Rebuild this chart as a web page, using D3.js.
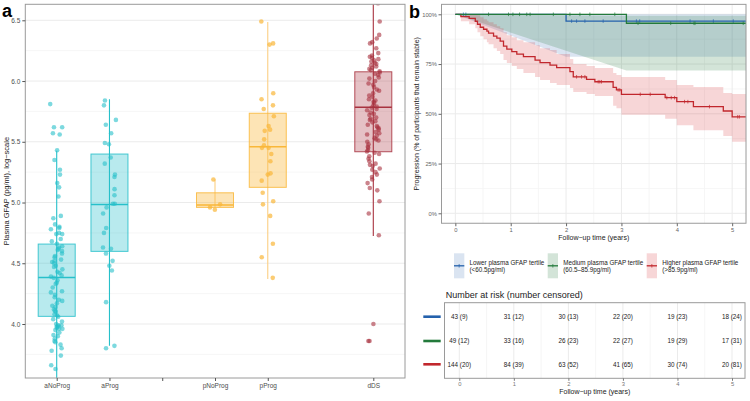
<!DOCTYPE html>
<html><head><meta charset="utf-8">
<script src="https://cdn.jsdelivr.net/npm/d3@7"></script>
<style>body{margin:0;background:#fff}svg{display:block;font-family:"Liberation Sans",Arial,Helvetica,sans-serif}</style>
</head><body><svg id="c" width="750" height="401"></svg>
<script>
// ---------------- DATA: panel a ----------------
const slots = ["aNoProg","aProg","gap1","pNoProg","pProg","gap2","dDS"];
const tickCats = ["aNoProg","aProg","gap1","pNoProg","pProg","dDS"];
const yTicksA = [4.0,4.5,5.0,5.5,6.0,6.5];
const boxGroups = ["aNoProg","aProg","pNoProg","pProg","dDS"];
const boxQ1  = [4.063,4.598,4.960,5.125,5.418];
const boxMed = [4.383,4.984,4.980,5.459,5.784];
const boxQ3  = [4.658,5.399,5.080,5.735,6.076];
const whiskLo= [3.50 ,3.822,4.960,4.370,4.724];
const whiskHi= [5.426,5.850,5.190,6.486,6.700];
const ptsANoProg = [5.81,5.62,5.62,5.57,5.56,5.43,5.35,5.27,5.23,5.16,5.125,5.05,4.89,4.87,4.82,4.80,4.79,4.78,4.75,4.74,4.74,4.70,4.68,4.66,4.64,4.63,4.62,4.61,4.60,4.58,4.56,4.55,4.53,4.52,4.51,4.50,4.48,4.47,4.45,4.43,4.42,4.40,4.39,4.38,4.36,4.34,4.33,4.30,4.27,4.26,4.24,4.22,4.20,4.19,4.17,4.15,4.14,4.12,4.11,4.10,4.08,4.07,4.06,4.04,4.02,4.00,3.99,3.99,3.98,3.98,3.97,3.96,3.96,3.95,3.93,3.91,3.90,3.88,3.86,3.85,3.83,3.80,3.78,3.74,3.66,3.63];
const ptsAProg = [5.84,5.80,5.68,5.64,5.57,5.49,5.48,5.37,5.32,5.23,5.21,5.11,5.06,4.99,4.99,4.96,4.91,4.79,4.75,4.63,4.62,4.58,4.52,4.48,4.44,4.18,3.82,3.80];
const ptsPNoProg = [5.19,4.985,4.96,4.94];
const ptsPProg = [6.49,6.31,6.30,5.90,5.85,5.80,5.77,5.71,5.63,5.60,5.59,5.52,5.47,5.45,5.45,5.40,5.34,5.24,5.23,5.18,5.08,5.01,4.985,4.89,4.66,4.55,4.38];
const ptsDDS = [6.64,6.49,6.38,6.35,6.32,6.31,6.27,6.23,6.21,6.20,6.19,6.18,6.17,6.16,6.15,6.14,6.13,6.12,6.11,6.10,6.09,6.08,6.07,6.06,6.05,6.03,6.02,6.00,5.98,5.97,5.95,5.93,5.92,5.90,5.88,5.87,5.85,5.84,5.83,5.82,5.80,5.79,5.78,5.77,5.76,5.74,5.73,5.72,5.70,5.69,5.68,5.67,5.66,5.64,5.63,5.62,5.61,5.60,5.58,5.57,5.56,5.55,5.53,5.52,5.51,5.50,5.48,5.46,5.45,5.43,5.42,5.41,5.40,5.38,5.36,5.34,5.32,5.31,5.30,5.28,5.27,5.25,5.23,5.21,5.19,5.16,5.12,5.10,5.01,4.91,4.73,4.00,3.86,3.86];
const groupPoints = [ptsANoProg,ptsAProg,ptsPNoProg,ptsPProg,ptsDDS];

// ---------------- DATA: panel b ----------------
const yearTicks = [0,1,2,3,4,5];
const pctTicks = [0,25,50,75,100];
const tEnd = 5.25;
const blueTimes = [0,2.0], blueSurv = [100,96.6];
const blueBandT = [0,2.0,5.25], blueBandLo = [100,78.7,78.7], blueBandHi = [100,100,100];
const blueCens = [0.145,0.19,2.1,2.19,2.34,2.67,3.27,3.33,4.24,4.66,5.02];
const greenTimes = [0,3.09], greenSurv = [100,95.5];
const greenBandT = [0,3.09,5.25], greenBandLo = [100,71.7,71.7], greenBandHi = [100,99.3,99.3];
const greenCens = [0.60,0.96,1.04,1.16,1.29,1.35,1.77,2.07,2.25,2.43,2.88,3.3,3.89,4.31,4.33,5.2];
const redTimes = [0,0.10,0.25,0.36,0.40,0.45,0.51,0.57,0.60,0.69,0.75,0.81,0.87,0.93,1.02,1.11,1.23,1.44,1.53,1.71,1.83,2.07,2.13,2.37,2.52,2.85,2.91,3.00,3.79,4.00,4.30,4.84,5.00];
const redSurv  = [100,98.8,98.0,96.5,95.0,93.5,92.5,91.5,90.5,89.0,88.0,86.5,84.0,82.5,81.2,80.0,78.7,77.0,75.7,74.5,73.2,71.2,68.6,67.3,66.1,63.3,62.0,59.8,58.1,56.1,53.6,51.4,48.5];
const redLo    = [100,96.5,95.0,93.0,91.0,89.0,87.5,86.0,85.0,83.0,81.5,80.0,77.0,75.5,74.0,72.5,70.5,68.5,67.0,65.5,64.5,63.0,61.0,60.0,59.0,54.0,52.8,49.5,47.5,44.3,41.7,38.8,36.0];
const redHi    = [100,100,100,100,99.5,98.5,97.5,96.8,96.0,95.0,94.0,93.0,91.0,89.5,88.5,87.0,86.0,84.5,83.0,82.0,80.0,77.5,75.0,74.0,73.0,70.5,69.5,68.5,67.0,64.5,63.5,60.5,60.0];
const redCens = [2.19,2.28,2.34,2.58,2.61,2.64,2.94,2.97,3.34,3.52,3.82,3.90,3.96,4.14,4.20,4.59,5.10,5.13];
const legendLine1 = ["Lower plasma GFAP tertile","Medium plasma GFAP tertile","Higher plasma GFAP tertile"];
const legendLine2 = ["(<60.5pg/ml)","(60.5\u201385.9pg/ml)","(>85.9pg/ml)"];
const riskBlue  = ["43 (9)","31 (12)","30 (13)","22 (20)","19 (23)","18 (24)"];
const riskGreen = ["49 (12)","33 (16)","26 (23)","22 (27)","19 (29)","17 (31)"];
const riskRed   = ["144 (20)","84 (39)","63 (52)","41 (65)","30 (74)","20 (81)"];

// ---------------- STYLE ----------------
const grpCol = {aNoProg:"#27C0CA",aProg:"#27C0CA",pNoProg:"#F9B739",pProg:"#F9B739",dDS:"#A8323F"};
const grpWhisk = {aNoProg:"#27C0CA",aProg:"#27C0CA",pNoProg:"#FCCF84",pProg:"#FCCF84",dDS:"#A8323F"};
const grpFill = {aNoProg:"rgba(39,192,202,0.33)",aProg:"rgba(39,192,202,0.33)",pNoProg:"rgba(250,185,60,0.38)",pProg:"rgba(250,185,60,0.38)",dDS:"rgba(168,50,63,0.30)"};
const COL = {blue:"#2461AC",green:"#237A3B",red:"#C1272D"};
const FILL = {blue:"rgba(36,97,172,0.17)",green:"rgba(35,122,59,0.20)",red:"rgba(214,39,45,0.19)"};
const grid = "#EBEBEB", gridMinor="#F4F4F4", border="#9A9A9A", tickTxt="#4D4D4D";

const svg = d3.select("#c");

// ================= PANEL A =================
const A = {l:25.3, r:405, t:4.3, b:378};
const yA = d3.scaleLinear().domain([3.5555,6.6317]).range([A.b,A.t]);
const xA = d3.scalePoint().domain(slots).range([56.7,373.3]);
const gA = svg.append("g");
svg.append("clipPath").attr("id","clipA").append("rect").attr("x",A.l).attr("y",A.t).attr("width",A.r-A.l).attr("height",A.b-A.t);
d3.range(3.75,6.6,0.5).forEach(v=>gA.append("line").attr("x1",A.l).attr("x2",A.r).attr("y1",yA(v)).attr("y2",yA(v)).attr("stroke",gridMinor).attr("stroke-width",0.8));
yTicksA.forEach(v=>gA.append("line").attr("x1",A.l).attr("x2",A.r).attr("y1",yA(v)).attr("y2",yA(v)).attr("stroke",grid).attr("stroke-width",1));
const boxW = 37;
const plotA = gA.append("g").attr("clip-path","url(#clipA)");
boxGroups.forEach((g,i)=>{
  const cx = xA(g);
  plotA.append("line").attr("x1",cx).attr("x2",cx).attr("y1",yA(whiskLo[i])).attr("y2",yA(whiskHi[i])).attr("stroke",grpWhisk[g]).attr("stroke-width",1.1);
  plotA.append("rect").attr("x",cx-boxW/2).attr("width",boxW).attr("y",yA(boxQ3[i])).attr("height",yA(boxQ1[i])-yA(boxQ3[i]))
    .attr("fill",grpFill[g]).attr("stroke",grpCol[g]).attr("stroke-width",1).attr("stroke-opacity",0.85);
  plotA.append("line").attr("x1",cx-boxW/2).attr("x2",cx+boxW/2).attr("y1",yA(boxMed[i])).attr("y2",yA(boxMed[i])).attr("stroke",grpCol[g]).attr("stroke-width",1.6);
});
// deterministic jitter (presentation only)
let seed = 7;
function jit(){ seed = (seed*16807)%2147483647; return (seed/2147483647)*2-1; }
boxGroups.forEach((g,i)=>{
  const cx = xA(g);
  plotA.selectAll(null).data(groupPoints[i]).enter().append("circle")
    .attr("cx",()=>cx+jit()*6.5).attr("cy",d=>yA(d)).attr("r",2.3)
    .attr("fill",grpCol[g]).attr("fill-opacity",g.startsWith("p")?0.7:0.6);
});
gA.append("rect").attr("x",A.l).attr("y",A.t).attr("width",A.r-A.l).attr("height",A.b-A.t).attr("fill","none").attr("stroke",border).attr("stroke-width",1);
const axYA = gA.append("g").attr("transform",`translate(${A.l},0)`).call(d3.axisLeft(yA).tickValues(yTicksA).tickFormat(d3.format(".1f")).tickSize(3).tickPadding(2));
const axXA = gA.append("g").attr("transform",`translate(0,${A.b})`).call(d3.axisBottom(xA).tickValues(tickCats).tickFormat(d=>d.startsWith("gap")?"":d).tickSize(3).tickPadding(2));
[axYA,axXA].forEach(ax=>{ax.select(".domain").remove();ax.selectAll("line").attr("stroke","#555");ax.selectAll("text").attr("fill",tickTxt).style("font-size","6.5px").style("font-family","Liberation Sans, Arial, sans-serif");});
gA.append("text").attr("transform",`translate(9,${(A.t+A.b)/2}) rotate(-90)`).attr("text-anchor","middle").style("font-size","7.5px").attr("fill","#222").text("Plasma GFAP (pg/ml), log\u2212scale");
svg.append("text").attr("x",2).attr("y",16.5).style("font-size","18px").style("font-weight","bold").text("a");

// ================= PANEL B =================
const B = {l:441.5, r:746, t:4.35, b:223.25};
const xB = d3.scaleLinear().domain([-0.25,5.25]).range([B.l,B.r]);
const yB = d3.scaleLinear().domain([-5,105]).range([B.b,B.t]);
const gB = svg.append("g");
svg.append("clipPath").attr("id","clipB").append("rect").attr("x",B.l).attr("y",B.t).attr("width",B.r-B.l).attr("height",B.b-B.t);
[0.5,1.5,2.5,3.5,4.5].forEach(v=>gB.append("line").attr("x1",xB(v)).attr("x2",xB(v)).attr("y1",B.t).attr("y2",B.b).attr("stroke",gridMinor).attr("stroke-width",0.8));
[12.5,37.5,62.5,87.5].forEach(v=>gB.append("line").attr("x1",B.l).attr("x2",B.r).attr("y1",yB(v)).attr("y2",yB(v)).attr("stroke",gridMinor).attr("stroke-width",0.8));
yearTicks.forEach(v=>gB.append("line").attr("x1",xB(v)).attr("x2",xB(v)).attr("y1",B.t).attr("y2",B.b).attr("stroke",grid).attr("stroke-width",1));
pctTicks.forEach(v=>gB.append("line").attr("x1",B.l).attr("x2",B.r).attr("y1",yB(v)).attr("y2",yB(v)).attr("stroke",grid).attr("stroke-width",1));
const plotB = gB.append("g").attr("clip-path","url(#clipB)");
const linArea = d3.area().x(d=>xB(d.t)).y0(d=>yB(d.lo)).y1(d=>yB(d.hi));
const stepArea = d3.area().curve(d3.curveStepAfter).x(d=>xB(d.t)).y0(d=>yB(d.lo)).y1(d=>yB(d.hi));
plotB.append("path").attr("d",linArea(blueBandT.map((t,i)=>({t,lo:blueBandLo[i],hi:blueBandHi[i]})))).attr("fill",FILL.blue);
plotB.append("path").attr("d",linArea(greenBandT.map((t,i)=>({t,lo:greenBandLo[i],hi:greenBandHi[i]})))).attr("fill",FILL.green);
const redBand = redTimes.map((t,i)=>({t,lo:redLo[i],hi:redHi[i]})); redBand.push({t:tEnd,lo:redLo[redLo.length-1],hi:redHi[redHi.length-1]});
plotB.append("path").attr("d",stepArea(redBand)).attr("fill",FILL.red);
const stepLine = d3.line().curve(d3.curveStepAfter).x(d=>xB(d.t)).y(d=>yB(d.s));
function survAt(times,surv,t){let s=surv[0];for(let i=0;i<times.length;i++){if(times[i]<=t)s=surv[i];}return s;}
function drawCurve(times,surv,cens,col){
  const pts = times.map((t,i)=>({t,s:surv[i]})); pts.push({t:tEnd,s:surv[surv.length-1]});
  plotB.append("path").attr("d",stepLine(pts)).attr("fill","none").attr("stroke",col).attr("stroke-width",1.3);
  plotB.selectAll(null).data(cens).enter().append("line")
    .attr("x1",d=>xB(d)).attr("x2",d=>xB(d)).attr("y1",d=>yB(survAt(times,surv,d))-1.8).attr("y2",d=>yB(survAt(times,surv,d))+1.8)
    .attr("stroke",col).attr("stroke-width",0.7);
}
drawCurve(redTimes,redSurv,redCens,COL.red);
drawCurve(blueTimes,blueSurv,blueCens,COL.blue);
drawCurve(greenTimes,greenSurv,greenCens,COL.green);
gB.append("rect").attr("x",B.l).attr("y",B.t).attr("width",B.r-B.l).attr("height",B.b-B.t).attr("fill","none").attr("stroke",border).attr("stroke-width",1);
const axYB = gB.append("g").attr("transform",`translate(${B.l},0)`).call(d3.axisLeft(yB).tickValues(pctTicks).tickFormat(d=>d+"%").tickSize(3).tickPadding(1.5));
const axXB = gB.append("g").attr("transform",`translate(0,${B.b})`).call(d3.axisBottom(xB).tickValues(yearTicks).tickFormat(d3.format("d")).tickSize(3).tickPadding(1.5));
[axYB,axXB].forEach(ax=>{ax.select(".domain").remove();ax.selectAll("line").attr("stroke","#666");ax.selectAll("text").attr("fill","#666").style("font-size","5.8px").style("font-family","Liberation Sans, Arial, sans-serif");});
gB.append("text").attr("x",(B.l+B.r)/2).attr("y",240).attr("text-anchor","middle").style("font-size","7px").attr("fill","#222").text("Follow\u2212up time (years)");
gB.append("text").attr("transform",`translate(418.5,${(B.t+B.b)/2}) rotate(-90)`).attr("text-anchor","middle").style("font-size","7px").attr("fill","#222").text("Progression (% of participants that remain stable)");
svg.append("text").attr("x",409).attr("y",17.5).style("font-size","18px").style("font-weight","bold").text("b");

const legX = [454,547.7,646.7];
const legKeys = ["blue","green","red"];
legKeys.forEach((k,i)=>{
  const g = svg.append("g");
  g.append("rect").attr("x",legX[i]).attr("y",253.3).attr("width",10.3).attr("height",25).attr("fill",FILL[k]);
  g.append("line").attr("x1",legX[i]).attr("x2",legX[i]+10.3).attr("y1",265.8).attr("y2",265.8).attr("stroke",COL[k]).attr("stroke-width",1.3);
  g.append("line").attr("x1",legX[i]+5.15).attr("x2",legX[i]+5.15).attr("y1",264).attr("y2",267.6).attr("stroke",COL[k]).attr("stroke-width",0.7);
  g.append("text").attr("x",legX[i]+15.5).attr("y",265.4).style("font-size","6.3px").attr("fill","#222").text(legendLine1[i]);
  g.append("text").attr("x",legX[i]+15.5).attr("y",272.4).style("font-size","6.3px").attr("fill","#222").text(legendLine2[i]);
});

// ================= RISK TABLE =================
const R = {l:444.5, r:745, t:302.7, b:378.3};
const xR = d3.scaleLinear().domain([0,5]).range([459.3,732]);
svg.append("text").attr("x",445.7).attr("y",297.5).style("font-size","9px").attr("fill","#222").text("Number at risk (number censored)");
const gR = svg.append("g");
[0.5,1.5,2.5,3.5,4.5].forEach(v=>gR.append("line").attr("x1",xR(v)).attr("x2",xR(v)).attr("y1",R.t).attr("y2",R.b).attr("stroke",gridMinor).attr("stroke-width",0.8));
yearTicks.forEach(v=>gR.append("line").attr("x1",xR(v)).attr("x2",xR(v)).attr("y1",R.t).attr("y2",R.b).attr("stroke",grid).attr("stroke-width",1));
gR.append("rect").attr("x",R.l).attr("y",R.t).attr("width",R.r-R.l).attr("height",R.b-R.t).attr("fill","none").attr("stroke",border).attr("stroke-width",1);
const rowY = [316.7,341,364.3];
const rows = [riskBlue,riskGreen,riskRed];
rows.forEach((row,ri)=>{
  svg.append("line").attr("x1",423.3).attr("x2",440.7).attr("y1",rowY[ri]).attr("y2",rowY[ri]).attr("stroke",COL[legKeys[ri]]).attr("stroke-width",2.6);
  gR.selectAll(null).data(row).enter().append("text")
    .attr("x",(d,i)=>xR(yearTicks[i])).attr("y",rowY[ri]+2.2).attr("text-anchor","middle")
    .style("font-size","6.3px").attr("fill","#222").text(d=>d);
});
const axR = gR.append("g").attr("transform",`translate(0,${R.b})`).call(d3.axisBottom(xR).tickValues(yearTicks).tickFormat(d3.format("d")).tickSize(2.5).tickPadding(1.5));
axR.select(".domain").remove(); axR.selectAll("line").attr("stroke","#777"); axR.selectAll("text").attr("fill","#777").style("font-size","5.8px").style("font-family","Liberation Sans, Arial, sans-serif");
gR.append("text").attr("x",(R.l+R.r)/2).attr("y",394).attr("text-anchor","middle").style("font-size","7px").attr("fill","#222").text("Follow\u2212up time (years)");
</script></body></html>
